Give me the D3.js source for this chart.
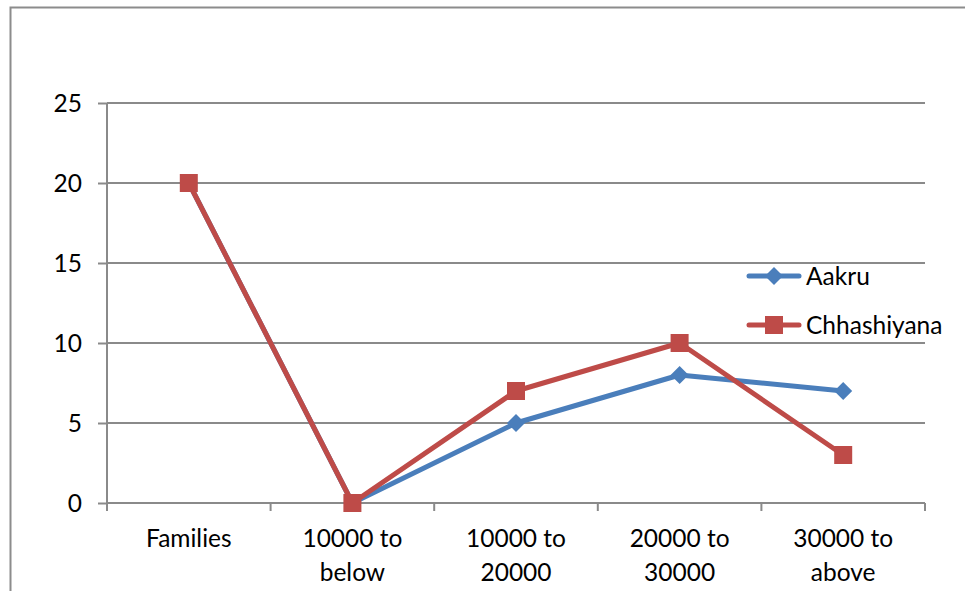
<!DOCTYPE html>
<html>
<head>
<meta charset="utf-8">
<script src="https://cdn.jsdelivr.net/npm/d3@7"></script>
<style>
  html, body { margin: 0; padding: 0; background: #fff; }
  svg { display: block; }
  text { font-family: Lato, "Open Sans", sans-serif; fill: #000; }
</style>
</head>
<body>
<svg id="chart" width="965" height="591"></svg>
<script>
// Income groups (x categories) and the two village series
const categories = [["Families"], ["10000 to", "below"], ["10000 to", "20000"], ["20000 to", "30000"], ["30000 to", "above"]];
const aakru = [20, 0, 5, 8, 7];
const chhashiyana = [20, 0, 7, 10, 3];
const yTicks = [0, 5, 10, 15, 20, 25];

const series = [
  { name: "Aakru", values: aakru, color: "#4A7EBB", marker: "diamond" },
  { name: "Chhashiyana", values: chhashiyana, color: "#BE4B48", marker: "square" }
];

const fontSize = 24.5;
const svg = d3.select("#chart");
const plotLeft = 107, plotRight = 925, plotTop = 103, plotBottom = 503;

// Outer chart frame (top and left edges visible)
svg.append("path")
  .attr("d", "M10.5,591 L10.5,7.5 L965,7.5")
  .attr("fill", "none").attr("stroke", "#8c8c8c").attr("stroke-width", 2);

const x = d3.scaleBand().domain(d3.range(categories.length)).range([plotLeft, plotRight]);
const y = d3.scaleLinear().domain([0, 25]).range([plotBottom, plotTop]);

// Horizontal gridlines
svg.append("g").selectAll("line").data(yTicks.filter(d => d > 0)).join("line")
  .attr("x1", plotLeft).attr("x2", plotRight)
  .attr("y1", d => y(d)).attr("y2", d => y(d))
  .attr("stroke", "#8a8a8a").attr("stroke-width", 2);

// Y axis
const yAxis = svg.append("g").attr("transform", `translate(${plotLeft},0)`)
  .call(d3.axisLeft(y).tickValues(yTicks).tickSize(9).tickPadding(16));
yAxis.select(".domain").attr("stroke", "#8a8a8a").attr("stroke-width", 2)
  .attr("d", `M0,${plotTop}V${plotBottom + 8}`);
yAxis.selectAll(".tick line").attr("stroke", "#8a8a8a").attr("stroke-width", 2);
yAxis.selectAll(".tick text").attr("font-size", fontSize).attr("dy", "0.35em")
  .style("font-family", "Lato, sans-serif").attr("fill", "#000");

// X axis: baseline plus boundary ticks between categories
const xg = svg.append("g");
xg.append("line").attr("x1", plotLeft).attr("x2", plotRight).attr("y1", plotBottom).attr("y2", plotBottom)
  .attr("stroke", "#8a8a8a").attr("stroke-width", 2);
const bounds = d3.range(categories.length + 1).map(i => i < categories.length ? x(i) : x(i - 1) + x.bandwidth());
xg.selectAll(".bt").data(bounds).join("line").attr("class", "bt")
  .attr("x1", d => d).attr("x2", d => d).attr("y1", plotBottom).attr("y2", plotBottom + 8)
  .attr("stroke", "#8a8a8a").attr("stroke-width", 2);

// Category labels (wrapped onto two lines)
const lbl = xg.selectAll(".cl").data(categories).join("text").attr("class", "cl")
  .attr("text-anchor", "middle").attr("font-size", fontSize)
  .attr("x", (d, i) => x(i) + x.bandwidth() / 2).attr("y", 547);
lbl.selectAll("tspan").data(d => d).join("tspan")
  .attr("x", function () { return this.parentNode.getAttribute("x"); })
  .attr("dy", (d, i) => i === 0 ? 0 : 34)
  .text(d => d);

const cx = i => x(i) + x.bandwidth() / 2;
const line = d3.line().x((d, i) => cx(i)).y(d => y(d));

function drawMarker(g, type, px, py, color) {
  if (type === "diamond") {
    g.append("path")
      .attr("d", `M${px},${py - 9}L${px + 9},${py}L${px},${py + 9}L${px - 9},${py}Z`)
      .attr("fill", color);
  } else {
    g.append("rect").attr("x", px - 9).attr("y", py - 9).attr("width", 18).attr("height", 18)
      .attr("fill", color);
  }
}

// Series lines and markers
series.forEach(s => {
  const g = svg.append("g");
  g.append("path").datum(s.values).attr("d", line)
    .attr("fill", "none").attr("stroke", s.color).attr("stroke-width", 5)
    .attr("stroke-linejoin", "round").attr("stroke-linecap", "round");
  s.values.forEach((v, i) => drawMarker(g, s.marker, cx(i), y(v), s.color));
});

// Legend
const legend = svg.append("g");
series.forEach((s, i) => {
  const ly = 276 + i * 49;
  legend.append("line").attr("x1", 749).attr("x2", 799).attr("y1", ly).attr("y2", ly)
    .attr("stroke", s.color).attr("stroke-width", 5).attr("stroke-linecap", "round");
  drawMarker(legend, s.marker, 774, ly, s.color);
  legend.append("text").attr("x", 806).attr("y", ly).attr("dy", "0.35em")
    .attr("font-size", fontSize).text(s.name);
});
</script>
</body>
</html>
